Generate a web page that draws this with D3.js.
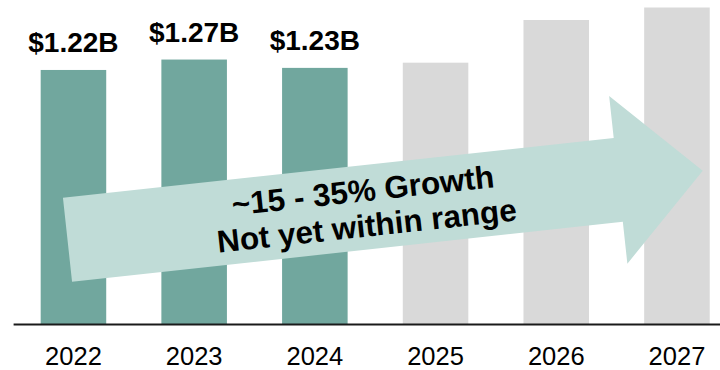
<!DOCTYPE html>
<html>
<head>
<meta charset="utf-8">
<script src="https://cdn.jsdelivr.net/npm/d3@7"></script>
<style>
  html, body { margin: 0; padding: 0; background: #ffffff; }
  svg { display: block; }
</style>
</head>
<body>
<svg id="chart" width="720" height="370"></svg>
<script>
// ---- data ----
const years = ["2022", "2023", "2024", "2025", "2026", "2027"];
const values = [1.22, 1.27, 1.23, 1.255, 1.46, 1.52];   // $B (2025-2027 are placeholders)
const valueLabels = ["$1.22B", "$1.27B", "$1.23B", "", "", ""];
const isActual = [true, true, true, false, false, false];
const arrowLines = ["~15 - 35% Growth", "Not yet within range"];

// ---- setup ----
const W = 720, H = 370;
const baseY = 324;
const svg = d3.select("#chart");

const x = d3.scaleBand()
  .domain(years)
  .range([13.1, 737.3])
  .paddingInner(0.457)
  .paddingOuter(0.2285);

const y = d3.scaleLinear()
  .domain([0, 1.556])
  .range([baseY, 0]);

const colorActual = "#71a79e";
const colorFuture = "#d9d9d9";
const fontFam = "'Liberation Sans', Arial, Helvetica, sans-serif";

// ---- bars ----
svg.append("g").selectAll("rect")
  .data(years)
  .join("rect")
  .attr("x", d => x(d))
  .attr("width", x.bandwidth())
  .attr("y", (d, i) => y(values[i]))
  .attr("height", (d, i) => baseY - y(values[i]))
  .attr("fill", (d, i) => isActual[i] ? colorActual : colorFuture);

// ---- value labels ----
svg.append("g").selectAll("text")
  .data(years)
  .join("text")
  .attr("x", d => x(d) + x.bandwidth() / 2)
  .attr("y", (d, i) => y(values[i]) - 18)
  .attr("text-anchor", "middle")
  .style("font-family", fontFam)
  .style("font-weight", "bold")
  .style("font-size", "28px")
  .attr("fill", "#000")
  .text((d, i) => valueLabels[i]);

// ---- growth arrow ----
const shaftLen = 554, shaftHalf = 42.2, headLen = 85, headHalf = 84.3;
const arrowPts = [
  [0, -shaftHalf], [shaftLen, -shaftHalf], [shaftLen, -headHalf],
  [shaftLen + headLen, 0],
  [shaftLen, headHalf], [shaftLen, shaftHalf], [0, shaftHalf]
];
const arrowG = svg.append("g")
  .attr("transform", "translate(67.5,239.7) rotate(-6.2)");
arrowG.append("path")
  .attr("d", d3.line()(arrowPts) + "Z")
  .attr("fill", "#c0dcd7");

arrowG.selectAll("text")
  .data(arrowLines)
  .join("text")
  .attr("x", 299)
  .attr("y", (d, i) => (i === 0 ? -17.5 : 18))
  .attr("dy", "0.36em")
  .attr("text-anchor", "middle")
  .style("font-family", fontFam)
  .style("font-weight", "bold")
  .style("font-size", "31.5px")
  .attr("fill", "#000")
  .text(d => d);

// ---- x axis ----
const axis = svg.append("g")
  .attr("transform", `translate(0,${baseY})`)
  .call(d3.axisBottom(x).tickSize(0).tickPadding(23));
axis.select(".domain")
  .attr("stroke", "#1a1a1a")
  .attr("stroke-width", 2);
axis.selectAll(".tick text")
  .style("font-family", fontFam)
  .style("font-size", "25.5px")
  .attr("fill", "#000");
</script>
</body>
</html>
